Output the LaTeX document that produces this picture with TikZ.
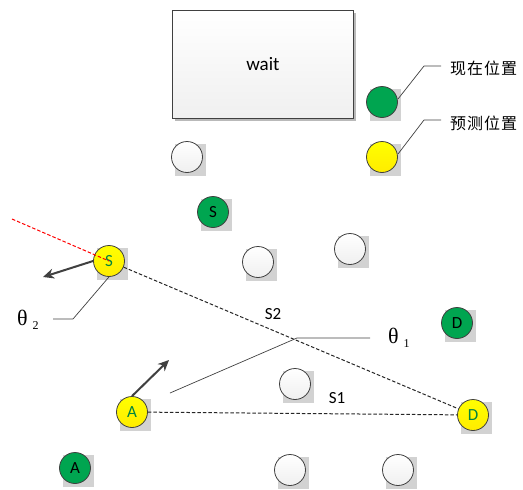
\documentclass[tikz,border=0pt]{standalone}
\usepackage{fontspec}
\setmainfont{Carlito}
\newfontfamily\cjk{Noto Sans CJK SC}
\newfontfamily\grk{Liberation Serif}
\usetikzlibrary{arrows.meta}
\definecolor{balgreen}{RGB}{0,165,80}
\definecolor{balyellow}{RGB}{255,255,0}
\definecolor{edgegray}{RGB}{64,64,64}
\tikzset{
  ball/.style={circle, draw=edgegray, line width=0.8pt, minimum size=31pt, inner sep=0pt, font=\fontsize{17}{17}\selectfont},
  whiteball/.style={ball, top color=white, bottom color=gray!12},
  greenball/.style={ball, fill=balgreen, text=black},
  yellowball/.style={ball, top color=balyellow, bottom color=balyellow!85!orange, text=balgreen!80!black},
  ballshadow/.style={fill=gray!35},
  thickarrow/.style={edgegray, line width=2pt, -{Stealth[length=11pt,width=10pt]}},
  dist/.style={black!85, line width=1pt, dash pattern=on 3.5pt off 2pt},
  leader/.style={edgegray, line width=0.7pt},
  lbl/.style={font=\fontsize{17}{17}\selectfont},
}
\begin{document}
\begin{tikzpicture}[x=1pt,y=-1pt]
\useasboundingbox (0,0) rectangle (523,490);
% shadow squares for balls
\foreach \x/\y in {187/157, 213/212, 258/262, 350/249, 457/323, 295/384, 290/470, 398/470, 75/468, 109/261, 132/412, 473/415, 382/102, 382/157}{
  \fill[ballshadow] (\x-12,\y-13) rectangle (\x+19,\y+19);
}
% wait box
\fill[gray!55] (175,13) rectangle (356,121);
\node[draw=edgegray, line width=0.8pt, top color=white, bottom color=gray!12, minimum width=181pt, minimum height=108pt, inner sep=0pt, font=\fontsize{19}{19}\selectfont, anchor=north west] (wait) at (172,10) {wait};
% balls
\node[whiteball] (w1) at (187,157) {};
\node[greenball] (gs) at (213,212) {S};
\node[whiteball] (w2) at (258,262) {};
\node[whiteball] (w3) at (350,249) {};
\node[greenball] (gd) at (457,323) {D};
\node[whiteball] (w4) at (295,384) {};
\node[whiteball] (w5) at (290,470) {};
\node[whiteball] (w6) at (398,470) {};
\node[greenball] (ga) at (75,468) {A};
\node[yellowball] (ys) at (109,261) {S};
\node[yellowball] (ya) at (132,412) {A};
\node[yellowball] (yd) at (473,415) {D};
% legend
\node[greenball] (lg) at (382,102) {};
\node[yellowball] (ly) at (382,157) {};
\node[font=\cjk\fontsize{16}{16}\selectfont, anchor=west, inner sep=0pt] (lnow) at (450,68) {现\kern1pt 在\kern1pt 位\kern1pt 置};
\node[font=\cjk\fontsize{16}{16}\selectfont, anchor=west, inner sep=0pt] (lpred) at (450,123) {预\kern1pt 测\kern1pt 位\kern1pt 置};
\coordinate (lgk) at (424,66);
\coordinate (lyk) at (424,120);
\coordinate (lge) at (441,66);
\coordinate (lye) at (441,120);
\draw[leader] (398,99) -- (lgk) -- (lge);
\draw[leader] (398,154) -- (lyk) -- (lye);
% distance lines
\draw[dist] (ys) -- (yd);
\coordinate (redend) at (12,219);
\draw[red, line width=1pt, dash pattern=on 3.5pt off 2pt] (redend) -- (ys.center);
\draw[dist] (ya) -- (yd);
\node[lbl] (s2) at (273,314) {S2};
\node[lbl] (s1) at (337,398) {S1};
% velocity arrows
\coordinate (vs) at (43,277);
\coordinate (va) at (169,360);
\draw[thickarrow] (ys.west) -- (vs);
\draw[thickarrow] (ya.north) -- (va);
% theta labels
\node[font=\grk\fontsize{22}{22}\selectfont, anchor=west, inner sep=0pt] (th2) at (17,320) {θ\kern5pt\raisebox{-4pt}{\fontsize{12}{12}\selectfont 2}};
\coordinate (t2k) at (73,319);
\coordinate (t2e) at (53,319);
\draw[leader] (ys.south) -- (t2k) -- (t2e);
\node[font=\grk\fontsize{22}{22}\selectfont, anchor=west, inner sep=0pt] (th1) at (388,338) {θ\kern5pt\raisebox{-4pt}{\fontsize{12}{12}\selectfont 1}};
\coordinate (t1s) at (170,393);
\coordinate (t1k) at (297,338);
\coordinate (t1e) at (370,338);
\draw[leader] (t1s) -- (t1k) -- (t1e);
\end{tikzpicture}
\end{document}
